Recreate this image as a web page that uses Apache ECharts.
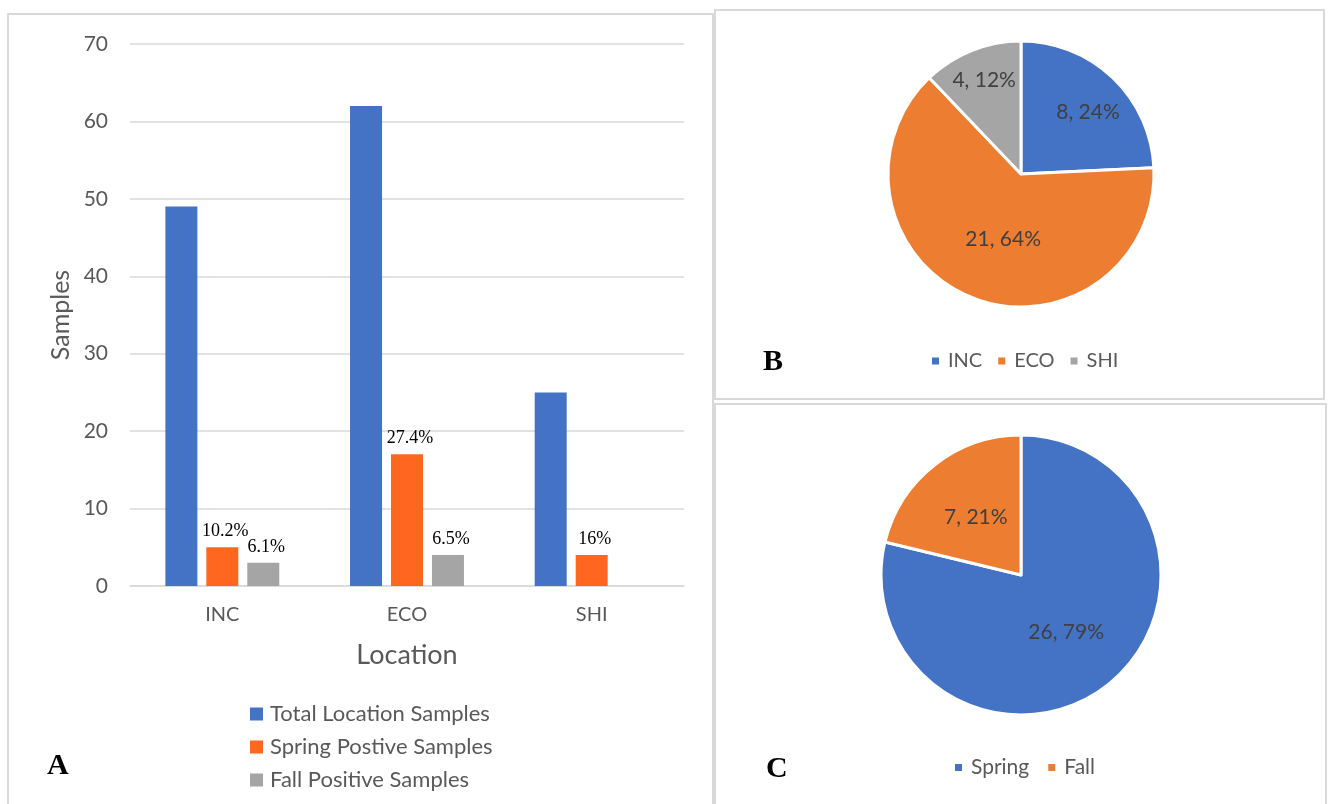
<!DOCTYPE html>
<html>
<head>
<meta charset="utf-8">
<script src="https://cdn.jsdelivr.net/npm/echarts@6/dist/echarts.min.js"></script>
<style>
html,body{margin:0;padding:0;background:#fff;}
#c{width:1330px;height:804px;}
</style>
</head>
<body>
<div id="c"></div>
<script>
// ---- Data ----
var locations = ['INC', 'ECO', 'SHI'];
var totalSamples = [49, 62, 25];
var springPositive = [5, 17, 4];
var fallPositive = [3, 4, null];
var springLabels = ['10.2%', '27.4%', '16%'];
var fallLabels = ['6.1%', '6.5%', ''];
var yTicks = [0, 10, 20, 30, 40, 50, 60, 70];

var pieBNames = ['INC', 'ECO', 'SHI'];
var pieBValues = [8, 21, 4];
var pieCNames = ['Spring', 'Fall'];
var pieCValues = [26, 7];

// ---- Styles ----
var FONT = 'Lato';
var TXT = '#595959';
var BLUE = '#4472C4', ORANGE_BAR = '#FF6721', ORANGE = '#ED7D31', GRAY = '#A5A5A5';
var pieBColors = [BLUE, ORANGE, GRAY];
var pieCColors = [BLUE, ORANGE];
var pieBLabelOffsets = [[19, -11], [8, 1], [-11, -29]];

var chart = echarts.init(document.getElementById('c'), null, {renderer: 'canvas'});

function barLabel(labels) {
  return {
    show: true,
    position: 'top',
    distance: 7,
    offset: [3, 0],
    fontFamily: 'Liberation Serif',
    fontSize: 18,
    color: '#000',
    formatter: function (p) { return labels[p.dataIndex]; }
  };
}

var option = {
  backgroundColor: '#fff',
  animation: false,
  textStyle: {fontFamily: FONT},
  grid: {left: 130, right: 646, top: 44, bottom: 218, containLabel: false},
  xAxis: {
    type: 'category',
    data: locations,
    name: 'Location',
    nameLocation: 'middle',
    nameGap: 56,
    nameTextStyle: {fontFamily: FONT, fontSize: 27, color: TXT},
    axisLine: {lineStyle: {color: '#d9d9d9', width: 1.5}},
    axisTick: {show: false},
    axisLabel: {fontFamily: FONT, fontSize: 20, color: TXT, margin: 19}
  },
  yAxis: {
    type: 'value',
    min: yTicks[0],
    max: yTicks[yTicks.length - 1],
    interval: yTicks[1] - yTicks[0],
    name: 'Samples',
    nameLocation: 'middle',
    nameGap: 57,
    nameRotate: 90,
    nameTextStyle: {fontFamily: FONT, fontSize: 25, color: TXT},
    axisLine: {show: false},
    axisTick: {show: false},
    axisLabel: {fontFamily: FONT, fontSize: 21, color: TXT, margin: 22},
    splitLine: {lineStyle: {color: '#d9d9d9', width: 1.5}}
  },
  legend: [
    {
      data: ['Total Location Samples', 'Spring Postive Samples', 'Fall Positive Samples'],
      orient: 'vertical',
      left: 250,
      top: 703,
      padding: 0,
      itemWidth: 13,
      itemHeight: 13,
      itemGap: 11,
      icon: 'rect',
      textStyle: {fontFamily: FONT, fontSize: 22, color: TXT, padding: [0, 0, 0, 2]},
      selectedMode: false
    },
    {
      data: pieBNames,
      orient: 'horizontal',
      left: 930,
      top: 351,
      padding: 0,
      itemWidth: 9,
      itemHeight: 9,
      itemGap: 14,
      icon: 'rect',
      textStyle: {fontFamily: FONT, fontSize: 20, color: TXT, padding: [0, 0, 0, 3]},
      selectedMode: false
    },
    {
      data: pieCNames,
      orient: 'horizontal',
      left: 953,
      top: 757,
      padding: 0,
      itemWidth: 9,
      itemHeight: 9,
      itemGap: 17,
      icon: 'rect',
      textStyle: {fontFamily: FONT, fontSize: 21, color: TXT, padding: [0, 0, 0, 3]},
      selectedMode: false
    }
  ],
  series: [
    {
      name: 'Total Location Samples',
      type: 'bar',
      data: totalSamples,
      barWidth: 32,
      barGap: '28%',
      itemStyle: {color: BLUE}
    },
    {
      name: 'Spring Postive Samples',
      type: 'bar',
      data: springPositive,
      barWidth: 32,
      barGap: '28%',
      itemStyle: {color: ORANGE_BAR},
      label: barLabel(springLabels)
    },
    {
      name: 'Fall Positive Samples',
      type: 'bar',
      data: fallPositive,
      barWidth: 32,
      barGap: '28%',
      itemStyle: {color: GRAY},
      label: barLabel(fallLabels)
    },
    {
      name: 'B',
      type: 'pie',
      center: [1021, 174],
      radius: [0, 133],
      startAngle: 90,
      clockwise: true,
      percentPrecision: 0,
      data: pieBNames.map(function (n, i) {
        return {
          name: n, value: pieBValues[i],
          itemStyle: {color: pieBColors[i]},
          label: {offset: pieBLabelOffsets[i]}
        };
      }),
      itemStyle: {borderColor: '#fff', borderWidth: 3},
      label: {
        show: true, position: 'inside',
        formatter: '{c}, {d}%',
        fontFamily: FONT, fontSize: 21, color: '#404040'
      },
      labelLine: {show: false},
      emphasis: {disabled: true}
    },
    {
      name: 'C',
      type: 'pie',
      center: [1021, 575],
      radius: [0, 140],
      startAngle: 90,
      clockwise: true,
      percentPrecision: 0,
      data: pieCNames.map(function (n, i) {
        return {name: n, value: pieCValues[i], itemStyle: {color: pieCColors[i]}};
      }),
      itemStyle: {borderColor: '#fff', borderWidth: 3},
      label: {
        show: true, position: 'inside',
        formatter: '{c}, {d}%',
        fontFamily: FONT, fontSize: 21, color: '#404040'
      },
      labelLine: {show: false},
      emphasis: {disabled: true}
    }
  ],
  graphic: [
    {type: 'rect', shape: {x: 8, y: 14, width: 705, height: 820}, style: {fill: null, stroke: '#d9d9d9', lineWidth: 2}, silent: true, z: -1},
    {type: 'rect', shape: {x: 715, y: 10, width: 609, height: 389}, style: {fill: null, stroke: '#d9d9d9', lineWidth: 2}, silent: true, z: -1},
    {type: 'rect', shape: {x: 715, y: 404, width: 611, height: 420}, style: {fill: null, stroke: '#d9d9d9', lineWidth: 2}, silent: true, z: -1},
    {type: 'text', left: 47, top: 751, style: {text: 'A', fontFamily: 'Liberation Serif', fontWeight: 'bold', fontSize: 30, fill: '#000'}},
    {type: 'text', left: 763, top: 347, style: {text: 'B', fontFamily: 'Liberation Serif', fontWeight: 'bold', fontSize: 30, fill: '#000'}},
    {type: 'text', left: 766, top: 754, style: {text: 'C', fontFamily: 'Liberation Serif', fontWeight: 'bold', fontSize: 30, fill: '#000'}}
  ]
};

chart.setOption(option);
</script>
</body>
</html>
